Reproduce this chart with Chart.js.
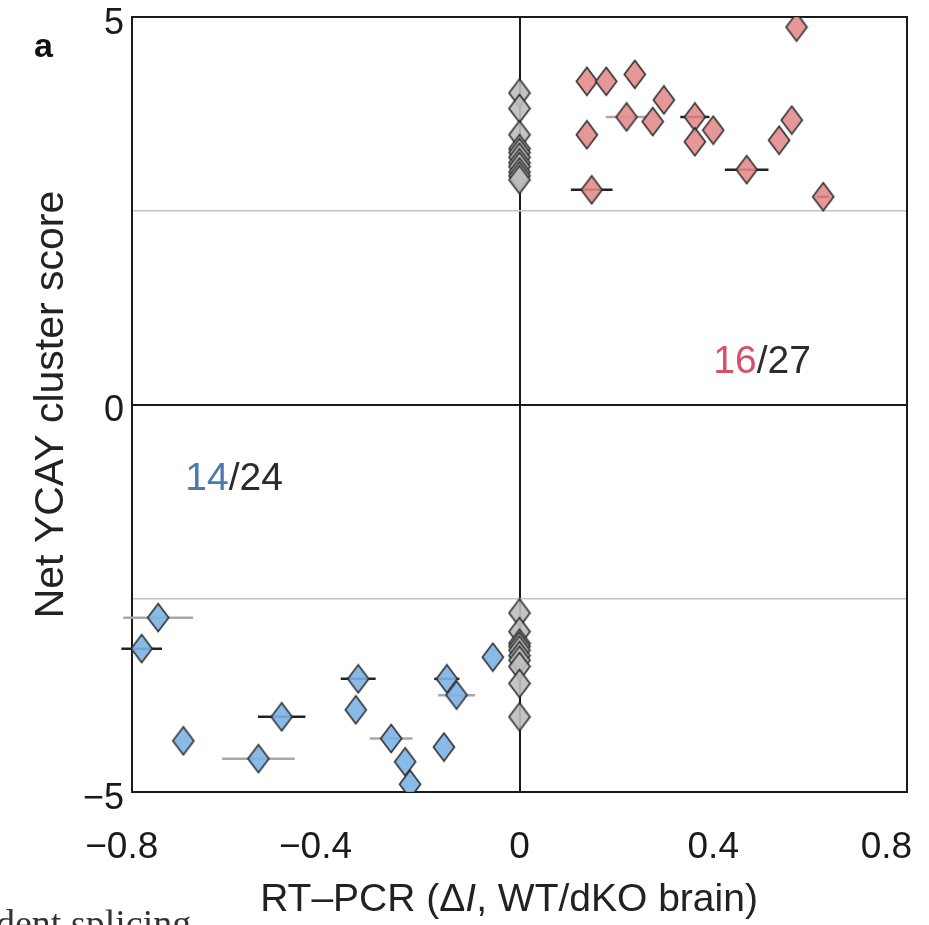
<!DOCTYPE html>
<html>
<head>
<meta charset="utf-8">
<script src="https://cdn.jsdelivr.net/npm/chart.js@4.4.1/dist/chart.umd.min.js"></script>
<style>
  body { margin: 0; background: #fff; }
  canvas { display: block; }
</style>
</head>
<body>
<canvas id="scoreChart" width="929" height="925"></canvas>
<script>
// exons up in WT (positive net score)
const redX   = [0.572, 0.139, 0.179, 0.238, 0.298, 0.221, 0.275, 0.362, 0.362, 0.400, 0.139, 0.562, 0.536, 0.469, 0.149, 0.627];
const redY   = [4.87, 4.17, 4.17, 4.26, 3.93, 3.71, 3.65, 3.71, 3.39, 3.54, 3.48, 3.67, 3.41, 3.03, 2.77, 2.68];
const redErr = [0, 0, 0, 0, 0, 0.043, 0, 0.03, 0, 0, 0, 0, 0, 0.045, 0.043, 0.012];

// exons down in WT (negative net score)
const blueX   = [-0.746, -0.780, -0.694, -0.539, -0.491, -0.333, -0.338, -0.265, -0.236, -0.226, -0.150, -0.130, -0.156, -0.055];
const blueY   = [-2.75, -3.15, -4.34, -4.57, -4.03, -3.54, -3.94, -4.31, -4.61, -4.90, -3.54, -3.75, -4.42, -3.26];
const blueErr = [0.072, 0.042, 0, 0.075, 0.049, 0.036, 0, 0.044, 0, 0, 0.026, 0.038, 0, 0];

// no change by RT-PCR (sit on x = 0)
const grayTopY    = [4.02, 3.82, 3.48, 3.30, 3.25, 3.19, 3.12, 3.07, 3.00, 2.95, 2.90];
const grayBottomY = [-2.69, -2.93, -3.08, -3.12, -3.17, -3.24, -3.30, -3.38, -3.60, -4.03];

const xTicks = [-0.8, -0.4, 0, 0.4, 0.8];
// trailing spaces keep the digits (not the minus) centred on the tick,
// and pull the last label back inside the page
const xTickLabels = ['\u22120.8  ', '\u22120.4  ', '0', '0.4', '0.8    '];
const yTicks = [-5, -2.5, 0, 2.5, 5];
const yTickLabels = ['\u22125', '', '0', '', '5'];

const redCount = ['16', '/27'];
const blueCount = ['14', '/24'];

// bar shading: true = dark line, false = light grey line
const redErrDark  = [0, 0, 0, 0, 0, false, 0, true, 0, 0, 0, 0, 0, true, true, true];
const blueErrDark = [false, true, 0, false, true, true, 0, false, 0, 0, true, false, 0, 0];

const FONT = '"Liberation Sans", Arial, Helvetica, sans-serif';

// tall diamond marker drawn once and reused as pointStyle
function makeDiamond(fill) {
  const w = 24, h = 31;
  const c = document.createElement('canvas');
  c.width = w; c.height = h;
  const g = c.getContext('2d');
  g.beginPath();
  g.moveTo(w / 2, 1.5);
  g.lineTo(w - 1.5, h / 2);
  g.lineTo(w / 2, h - 1.5);
  g.lineTo(1.5, h / 2);
  g.closePath();
  g.fillStyle = fill;
  g.fill();
  g.lineWidth = 1.6;
  g.strokeStyle = '#2e2e2e';
  g.stroke();
  return c;
}

function toPoints(xs, ys) {
  return ys.map((v, i) => ({ x: xs[i], y: v }));
}

const errorBars = {
  id: 'errorBars',
  beforeDatasetsDraw(chart) {
    const { ctx, scales: { x, y }, chartArea: a } = chart;
    ctx.save();
    // plot frame
    ctx.strokeStyle = '#1a1a1a';
    ctx.lineWidth = 2;
    ctx.strokeRect(a.left, a.top, a.right - a.left, a.bottom - a.top);
    ctx.lineWidth = 2.5;
    chart.data.datasets.forEach(ds => {
      if (!ds.xErr) return;
      ds.data.forEach((p, i) => {
        const e = ds.xErr[i];
        if (!e) return;
        ctx.strokeStyle = ds.errDark[i] ? '#222' : '#a8a8a8';
        const py = y.getPixelForValue(p.y);
        ctx.beginPath();
        ctx.moveTo(x.getPixelForValue(p.x - e), py);
        ctx.lineTo(x.getPixelForValue(p.x + e), py);
        ctx.stroke();
      });
    });
    ctx.restore();
  }
};

const labels = {
  id: 'labels',
  afterDraw(chart) {
    const { ctx, scales: { x, y } } = chart;
    ctx.save();
    ctx.textBaseline = 'middle';
    ctx.textAlign = 'left';

    // counts in the two quadrants
    ctx.font = '39px ' + FONT;
    let px = x.getPixelForValue(0.40), py = y.getPixelForValue(0.55);
    ctx.fillStyle = '#d65068';
    ctx.fillText(redCount[0], px, py);
    px += ctx.measureText(redCount[0]).width;
    ctx.fillStyle = '#2b2b2b';
    ctx.fillText(redCount[1], px, py);

    px = x.getPixelForValue(-0.69); py = y.getPixelForValue(-0.96);
    ctx.fillStyle = '#4a7ab2';
    ctx.fillText(blueCount[0], px, py);
    px += ctx.measureText(blueCount[0]).width;
    ctx.fillStyle = '#2b2b2b';
    ctx.fillText(blueCount[1], px, py);

    // panel letter
    ctx.fillStyle = '#111';
    ctx.font = 'bold 34px ' + FONT;
    ctx.fillText('a', 34, 48);

    // x axis title, with italic I
    const parts = [['RT\u2013PCR (\u0394', ''], ['I', 'italic '], [', WT/dKO brain)', '']];
    const fs = 39;
    let total = 0;
    parts.forEach(([t, st]) => { ctx.font = st + fs + 'px ' + FONT; total += ctx.measureText(t).width; });
    let tx = 509 - total / 2;
    ctx.fillStyle = '#222';
    parts.forEach(([t, st]) => {
      ctx.font = st + fs + 'px ' + FONT;
      ctx.fillText(t, tx, 900);
      tx += ctx.measureText(t).width;
    });

    // caption text from the neighbouring panel, cut by the page edge
    ctx.font = '38px "Liberation Serif", "DejaVu Serif", serif';
    ctx.textBaseline = 'alphabetic';
    ctx.fillStyle = '#333';
    ctx.fillText('dent splicing', -4, 936);
    ctx.restore();
  }
};

new Chart(document.getElementById('scoreChart'), {
  type: 'scatter',
  data: {
    datasets: [
      {
        label: 'WT up',
        data: toPoints(redX, redY),
        xErr: redErr,
        errDark: redErrDark,
        pointStyle: makeDiamond('rgba(226, 138, 138, 0.88)')
      },
      {
        label: 'WT down',
        data: toPoints(blueX, blueY),
        xErr: blueErr,
        errDark: blueErrDark,
        pointStyle: makeDiamond('rgba(125, 180, 230, 0.9)')
      },
      {
        label: 'no change',
        data: toPoints(grayTopY.map(() => 0), grayTopY)
          .concat(toPoints(grayBottomY.map(() => 0), grayBottomY)),
        pointStyle: makeDiamond('rgba(190, 190, 190, 0.9)')
      }
    ]
  },
  options: {
    responsive: false,
    animation: false,
    layout: { padding: { top: 17, right: 22, left: 0, bottom: 0 } },
    plugins: {
      legend: { display: false },
      tooltip: { enabled: false }
    },
    scales: {
      x: {
        type: 'linear',
        min: -0.8,
        max: 0.8,
        afterBuildTicks: s => { s.ticks = xTicks.map(v => ({ value: v })); },
        afterFit: s => { s.height = 133; s.paddingLeft = 0; s.paddingRight = 0; },
        border: { display: false },
        grid: {
          drawTicks: false,
          color: c => c.tick && c.tick.value === 0 ? '#1a1a1a' : 'rgba(0,0,0,0)',
          lineWidth: 2
        },
        ticks: {
          padding: 34,
          maxRotation: 0,
          color: '#1a1a1a',
          font: { family: FONT, size: 37 },
          callback: (v, i) => xTickLabels[i]
        }
      },
      y: {
        min: -5,
        max: 5,
        afterBuildTicks: s => { s.ticks = yTicks.map(v => ({ value: v })); },
        afterFit: s => { s.width = 132; s.paddingTop = 0; s.paddingBottom = 0; },
        border: { display: false },
        grid: {
          drawTicks: false,
          color: c => {
            if (!c.tick) return 'rgba(0,0,0,0)';
            if (c.tick.value === 0) return '#1a1a1a';
            if (Math.abs(c.tick.value) === 2.5) return '#c4c4c4';
            return 'rgba(0,0,0,0)';
          },
          lineWidth: c => c.tick && c.tick.value === 0 ? 2 : 1.5
        },
        ticks: {
          padding: 8,
          labelOffset: 7,
          color: '#1a1a1a',
          font: { family: FONT, size: 36 },
          callback: (v, i) => yTickLabels[i]
        },
        title: {
          display: true,
          text: 'Net YCAY cluster score',
          color: '#222',
          font: { family: FONT, size: 41 },
          padding: { top: 27, bottom: 0 }
        }
      }
    }
  },
  plugins: [errorBars, labels]
});
</script>
</body>
</html>
